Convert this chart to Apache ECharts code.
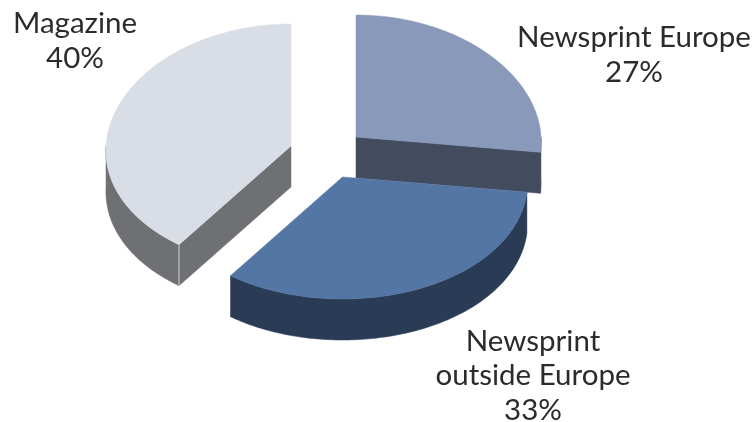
<!DOCTYPE html>
<html>
<head>
<meta charset="utf-8">
<style>html,body{margin:0;padding:0;background:#fff}#chart{width:755px;height:422px}</style>
<script src="https://cdn.jsdelivr.net/npm/echarts@6/dist/echarts.min.js"></script>
</head>
<body>
<div id="chart"></div>
<script>
// Paper consumption shares, clockwise from twelve o'clock.
var categories = ['Newsprint Europe', 'Newsprint outside Europe', 'Magazine'];
var shares = [27, 33, 40];
var labelLines = [['Newsprint Europe', '27%'], ['Newsprint', 'outside Europe', '33%'], ['Magazine', '40%']];

// Tilted-disc projection and per-slice styling.
var radiusX = 185, radiusY = 122, depth = 41, perspective = 0.037;
var apexes = [[356, 137], [342.5, 177], [291, 146]];
var topColors = ['#8899ba', '#5476a5', '#d9dde6'];
var sideColors = ['#434c5f', '#2a3b55', '#6f7073'];
var labelCentres = [[634, 55], [533, 375.5], [75, 41]];
var lineHeight = 34.5;

// Nearer parts of the disc spread slightly wider, as in a true perspective view.
function rimPoint(apex, deg, drop) {
  var a = deg * Math.PI / 180;
  var spread = 1 - perspective * Math.cos(a);
  return [apex[0] + radiusX * Math.sin(a) * spread, apex[1] - radiusY * Math.cos(a) + (drop || 0)];
}
function arc(apex, from, to, drop) {
  var pts = [], n = Math.max(2, Math.ceil(Math.abs(to - from) / 1));
  for (var i = 0; i <= n; i++) pts.push(rimPoint(apex, from + (to - from) * i / n, drop));
  return pts;
}
function poly(points, color) {
  return { type: 'polygon', shape: { points: points }, style: { fill: color, stroke: color, lineWidth: 0.5 } };
}

var total = shares.reduce(function (s, v) { return s + v; }, 0);

function renderSlice(params, api) {
  var i = params.dataIndex;
  var before = 0;
  for (var k = 0; k < i; k++) before += shares[k];
  var start = before / total * 360;
  var end = (before + api.value(0)) / total * 360;
  var apex = apexes[i];
  var children = [];

  // Outer wall: only the part on the near side of the disc shows.
  var from = Math.max(start, 90), to = Math.min(end, 270);
  if (to > from) {
    children.push(poly(arc(apex, from, to, 0).concat(arc(apex, to, from, depth)), sideColors[i]));
  }
  // Cut faces that turn toward the viewer.
  [start, end].forEach(function (deg) {
    var isNear = (deg === end && deg > 90 && deg < 180) || (deg === start && deg > 180 && deg < 270);
    if (isNear) {
      var p = rimPoint(apex, deg, 0);
      children.push(poly([apex, p, [p[0], p[1] + depth], [apex[0], apex[1] + depth]], sideColors[i]));
    }
  });
  // Pale seam on the corner between wall and cut face.
  if (start > 180 && start < 270) {
    var c = rimPoint(apex, start, 0);
    children.push({
      type: 'line',
      shape: { x1: c[0], y1: c[1], x2: c[0], y2: c[1] + depth },
      style: { stroke: '#d4d5d8', lineWidth: 1 }
    });
  }
  // Top surface.
  children.push(poly([apex].concat(arc(apex, start, end, 0)), topColors[i]));

  // Category and percentage text.
  var lines = labelLines[i], lc = labelCentres[i];
  lines.forEach(function (t, n) {
    children.push({
      type: 'text',
      style: {
        text: t, x: lc[0], y: lc[1] + (n - (lines.length - 1) / 2) * lineHeight,
        align: 'center', verticalAlign: 'middle',
        font: '29.5px Lato', fill: '#2b2b2b'
      }
    });
  });
  return { type: 'group', children: children };
}

var chart = echarts.init(document.getElementById('chart'), null, { renderer: 'canvas' });
chart.setOption({
  animation: false,
  backgroundColor: '#ffffff',
  series: [{
    type: 'custom',
    coordinateSystem: 'none',
    renderItem: renderSlice,
    data: shares.map(function (v, i) { return { name: categories[i], value: [v] }; })
  }]
});
</script>
</body>
</html>
